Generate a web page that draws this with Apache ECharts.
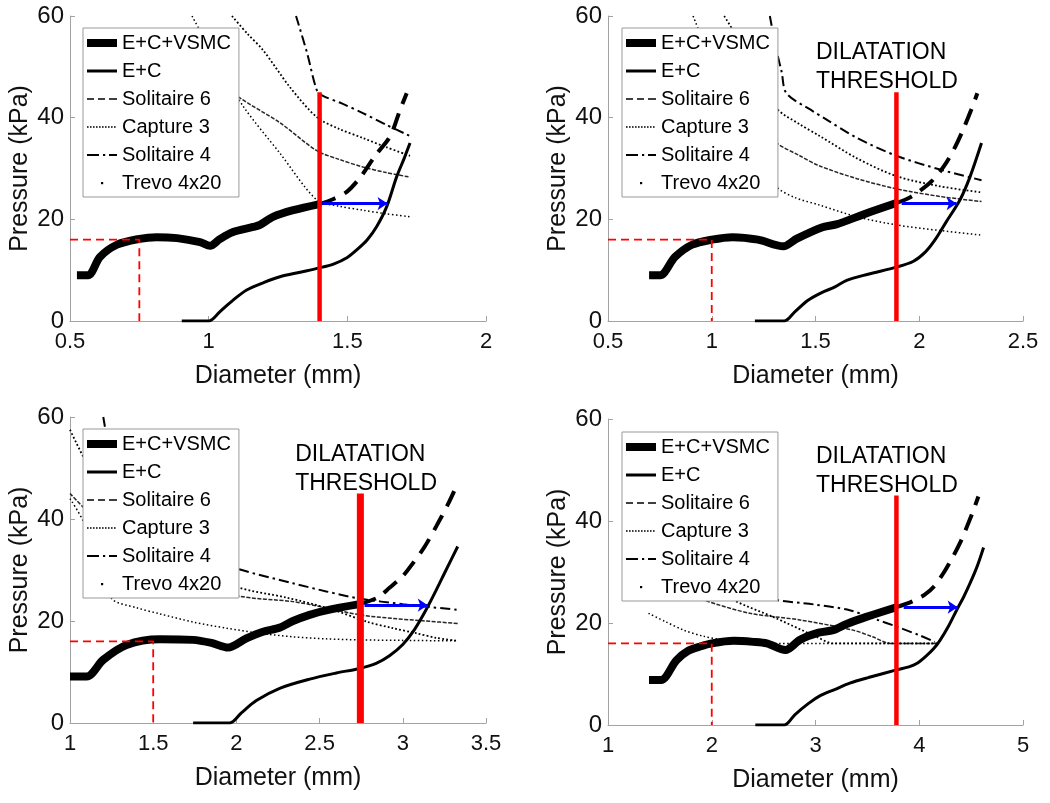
<!DOCTYPE html>
<html>
<head>
<meta charset="utf-8">
<script src="https://cdn.jsdelivr.net/npm/echarts@6/dist/echarts.min.js"></script>
<style>html,body{margin:0;padding:0;background:#fff}#chart{width:1050px;height:803px}</style>
</head>
<body>
<div id="chart"></div>
<script>
// ---------- DATA ----------
const legendNames = ['E+C+VSMC', 'E+C', 'Solitaire 6', 'Capture 3', 'Solitaire 4', 'Trevo 4x20'];
const annotationText = 'DILATATION\nTHRESHOLD';
const xTitle = 'Diameter (mm)';
const yTitle = 'Pressure (kPa)';
const xMins = [0.5, 0.5, 1, 1];
const xMaxs = [2, 2.5, 3.5, 5];
const xSteps = [0.5, 0.5, 0.5, 1];
const yMin = 0, yMax = 60, yStep = 20;

// Plot 1
const p1_vsmc = [[0.525,9],[0.565,9],[0.608,12.6],[0.669,15],[0.745,16.1],[0.813,16.5],[0.886,16.3],[0.969,15.5],[1.005,14.8],[1.04,16.1],[1.088,17.5],[1.16,18.5],[1.185,18.9],[1.232,20.5],[1.305,21.8],[1.4,23]];
const p1_vsmcExt = [[1.4,23],[1.45,24],[1.5,25.5],[1.55,28.5],[1.6,32.5],[1.654,36.3],[1.69,41.5],[1.714,44.8]];
const p1_ec = [[0.903,0],[1.0,0],[1.04,1.8],[1.088,4.1],[1.137,6.1],[1.2,7.6],[1.257,8.7],[1.33,9.6],[1.395,10.4],[1.45,11.2],[1.5,12.5],[1.534,14],[1.572,16],[1.606,18.6],[1.642,22.5],[1.678,28.4],[1.705,32],[1.726,35]];
const p1_sol6 = [[1.0,49],[1.107,44.1],[1.257,39],[1.39,33.5],[1.47,31.8],[1.556,30.3],[1.64,29.2],[1.726,28.3]];
const p1_cap3 = [[1.084,60],[1.14,56.5],[1.196,53.3],[1.293,46],[1.39,40.1],[1.47,37.8],[1.556,36],[1.64,34.2],[1.726,32.5]];
const p1_sol4 = [[1.315,60],[1.355,52.7],[1.39,45.4],[1.412,44.3],[1.48,42.8],[1.556,40.9],[1.64,38.6],[1.726,36.4]];
const p1_trevo = [[0.94,60],[1.03,51],[1.125,42.2],[1.257,33],[1.39,23.8],[1.47,22.6],[1.556,21.8],[1.64,21.1],[1.726,20.5]];
const p1_guide = [[0.5,16],[0.75,16],[0.75,0]];
const p1_threshold = [[1.4,0],[1.4,45]];
const p1_arrow = [[1.41,23.1],[1.645,23.1]];

// Plot 2
const p2_vsmc = [[0.698,9],[0.751,9],[0.823,12.6],[0.905,15],[1.0,16],[1.1,16.5],[1.223,16],[1.345,14.7],[1.41,16.2],[1.53,18.4],[1.6,19],[1.747,21.2],[1.89,23.2]];
const p2_vsmcExt = [[1.89,23.2],[1.95,24.2],[2.0,25.5],[2.06,27.5],[2.12,30.5],[2.17,34],[2.21,37.5],[2.25,41.5],[2.28,44.8]];
const p2_ec = [[1.208,0],[1.35,0],[1.4,1.8],[1.464,4.1],[1.53,5.6],[1.594,6.7],[1.65,8],[1.753,9.2],[1.89,10.6],[1.97,11.7],[2.03,13.6],[2.08,16.2],[2.13,19.5],[2.196,23.8],[2.245,28.4],[2.3,35]];
const p2_sol6 = [[1.15,41],[1.313,35],[1.42,32.6],[1.52,30.5],[1.7,28],[1.89,26],[2.1,24.5],[2.3,23.5]];
const p2_cap3 = [[1.06,60],[1.15,54],[1.23,48],[1.313,41.8],[1.42,38.8],[1.52,36.4],[1.7,32],[1.89,28.5],[2.1,26.5],[2.3,25.3]];
const p2_sol4 = [[1.28,60],[1.31,53.6],[1.337,49],[1.36,44.8],[1.49,41.2],[1.546,39.8],[1.7,36],[1.89,32.5],[2.1,29.8],[2.3,27.7]];
const p2_trevo = [[0.91,60],[1.0,51],[1.1,42],[1.2,34],[1.313,26.4],[1.4,24.3],[1.52,22.8],[1.7,20.5],[1.89,18.9],[2.1,17.8],[2.3,16.9]];
const p2_guide = [[0.5,16],[1.0,16],[1.0,0]];
const p2_threshold = [[1.89,0],[1.89,45]];
const p2_arrow = [[1.915,23.1],[2.18,23.1]];
const p2_label = [1.5, 49.9];

// Plot 3
const p3_vsmc = [[1.0,9.1],[1.1,9.1],[1.2,12.4],[1.34,15.3],[1.54,16.4],[1.74,16.3],[1.85,15.7],[1.95,14.8],[2.06,16.6],[2.16,17.9],[2.26,18.7],[2.34,20],[2.44,21.2],[2.54,22.1],[2.74,23.3]];
const p3_vsmcExt = [[2.74,23.3],[2.85,24.6],[2.92,26.5],[3.0,28.8],[3.06,31.3],[3.13,34.5],[3.2,38.5],[3.27,42.8],[3.33,47]];
const p3_ec = [[1.74,0],[1.96,0],[2.03,2],[2.12,4.4],[2.26,6.8],[2.44,8.6],[2.6,9.8],[2.74,10.7],[2.84,11.7],[2.92,13.2],[3.0,15.4],[3.07,18.3],[3.14,22.2],[3.2,26],[3.26,30],[3.33,34.6]];
const p3_sol6 = [[1.0,45],[1.3,35.5],[1.6,29.5],[2.0,25],[2.34,23.8],[2.54,22.6],[2.74,21.2],[2.94,20.5],[3.14,20],[3.33,19.5]];
const p3_cap3 = [[1.0,57.5],[1.09,51.6],[1.2,46],[1.4,38.5],[1.7,31.5],[2.0,26.7],[2.3,24.6],[2.58,22.2],[2.78,19.9],[2.94,18.6],[3.08,17.6],[3.2,16.7],[3.33,16.1]];
const p3_sol4 = [[1.2,60],[1.23,54],[1.27,45],[1.5,38],[1.75,33.5],[2.0,30.3],[2.34,27.4],[2.54,25.8],[2.74,24.4],[3.0,23.3],[3.33,22.2]];
const p3_trevo = [[1.0,44],[1.08,39.5],[1.16,31.5],[1.25,24.4],[1.4,22.6],[1.54,21.4],[1.74,19.8],[1.94,18.6],[2.14,17.6],[2.34,16.9],[2.54,16.5],[2.74,16.3],[3.0,16.2],[3.33,16.1]];
const p3_guide = [[1.0,16],[1.5,16],[1.5,0]];
const p3_threshold = [[2.745,0],[2.745,45]];
const p3_arrow = [[2.77,23.1],[3.15,23.1]];
const p3_label = [2.35, 49.8];

// Plot 4
const p4_vsmc = [[1.395,8.8],[1.51,8.8],[1.66,12.7],[1.77,14.5],[1.89,15.4],[2.0,16],[2.21,16.5],[2.4,16.3],[2.53,16],[2.71,14.7],[2.85,16.7],[3.03,18.1],[3.17,18.6],[3.3,19.8],[3.49,21.2],[3.78,23.1]];
const p4_vsmcExt = [[3.78,23.1],[3.94,24.3],[4.05,25.5],[4.14,27.1],[4.24,30],[4.33,33.2],[4.4,36],[4.46,38.9],[4.52,42],[4.57,44.8]];
const p4_ec = [[2.42,0],[2.7,0],[2.8,2],[2.93,4.2],[3.05,5.8],[3.19,7.0],[3.33,8.2],[3.51,9.3],[3.78,10.8],[3.9,11.4],[3.98,12.1],[4.06,13.4],[4.14,15.0],[4.2,16.6],[4.28,19.3],[4.36,22.5],[4.43,25.2],[4.49,27.8],[4.56,31.2],[4.62,34.8]];
const p4_sol6 = [[1.75,26],[1.92,24.5],[2.37,21.9],[2.85,20.6],[3.36,18.6],[3.55,17.3],[3.72,16],[4.18,16]];
const p4_cap3 = [[2.05,27],[2.21,24.5],[2.59,21.2],[3.01,17.3],[3.17,16],[4.18,16]];
const p4_sol4 = [[2.5,25.5],[2.63,24.5],[3.0,23.6],[3.33,22.5],[3.6,20.6],[3.78,19.3],[4.0,17.6],[4.15,16.3]];
const p4_trevo = [[1.39,21.9],[1.55,20.3],[1.73,18.6],[1.92,17.4],[2.11,16.7],[2.3,16.3],[2.53,16],[4.18,16]];
const p4_guide = [[1.0,16],[2.0,16],[2.0,0]];
const p4_threshold = [[3.78,0],[3.78,45]];
const p4_arrow = [[3.85,23.1],[4.37,23.1]];
const p4_label = [3.0, 49.8];

// ---------- BUILD ----------
const plots = [
  {vsmc:p1_vsmc, vsmcExt:p1_vsmcExt, ec:p1_ec, sol6:p1_sol6, cap3:p1_cap3, sol4:p1_sol4, trevo:p1_trevo, guide:p1_guide, threshold:p1_threshold, arrow:p1_arrow, label:null},
  {vsmc:p2_vsmc, vsmcExt:p2_vsmcExt, ec:p2_ec, sol6:p2_sol6, cap3:p2_cap3, sol4:p2_sol4, trevo:p2_trevo, guide:p2_guide, threshold:p2_threshold, arrow:p2_arrow, label:p2_label},
  {vsmc:p3_vsmc, vsmcExt:p3_vsmcExt, ec:p3_ec, sol6:p3_sol6, cap3:p3_cap3, sol4:p3_sol4, trevo:p3_trevo, guide:p3_guide, threshold:p3_threshold, arrow:p3_arrow, label:p3_label},
  {vsmc:p4_vsmc, vsmcExt:p4_vsmcExt, ec:p4_ec, sol6:p4_sol6, cap3:p4_cap3, sol4:p4_sol4, trevo:p4_trevo, guide:p4_guide, threshold:p4_threshold, arrow:p4_arrow, label:p4_label}
];

const FONT = 'Liberation Sans';
const AXIS_GRAY = '#a3a3a3';
const TXT = '#111';
const gridBoxes = [
  {left:70, top:16, width:416, height:305},
  {left:608, top:16, width:415, height:305},
  {left:70, top:417, width:416, height:306},
  {left:608, top:419, width:415, height:306}
];
const legendPos = [{left:83, top:28}, {left:622, top:28}, {left:83, top:429}, {left:622, top:432}];
const thresholdWidths = [4.5, 4.5, 7, 4.5];

// legend icons (30 x 14 boxes)
function dots(y, h, step, w) { let s = ''; for (let x = 0; x + w <= 30.01; x += step) s += 'M' + x + ',' + y + 'h' + w + 'v' + h + 'h-' + w + 'z'; return s; }
const BOX = 'path://M0,0M30,14';
const legendIcons = {
  'E+C+VSMC': BOX + 'M0,3h30v8h-30z',
  'E+C': BOX + 'M0,5.5h30v3h-30z',
  'Solitaire 6': BOX + 'M0,6.3h7v1.5h-7zM11,6.3h7v1.5h-7zM22,6.3h8v1.5h-8z',
  'Capture 3': BOX + dots(6.2, 1.6, 3, 1.6),
  'Solitaire 4': BOX + 'M0,6h12v2h-12zM16,6h2.2v2h-2.2zM22,6h8v2h-8z',
  'Trevo 4x20': BOX + 'M14,6h2.2v2.2h-2.2z'
};

const grid = [], xAxis = [], yAxis = [], legend = [], series = [];

plots.forEach((d, i) => {
  grid.push(Object.assign({outerBoundsMode: 'none', containLabel: false}, gridBoxes[i]));
  xAxis.push({
    type: 'value', gridIndex: i, min: xMins[i], max: xMaxs[i], interval: xSteps[i],
    name: xTitle, nameLocation: 'middle', nameGap: 43, nameMoveOverlap: false,
    nameTextStyle: {fontFamily: FONT, fontSize: 25, color: TXT},
    axisLine: {show: true, onZero: false, lineStyle: {color: AXIS_GRAY, width: 1}},
    axisTick: {show: true, inside: true, length: 5, lineStyle: {color: AXIS_GRAY}},
    axisLabel: {fontFamily: FONT, fontSize: 22, color: TXT, margin: 10, showMinLabel: true, showMaxLabel: true},
    splitLine: {show: false}
  });
  yAxis.push({
    type: 'value', gridIndex: i, min: yMin, max: yMax, interval: yStep,
    name: yTitle, nameLocation: 'middle', nameGap: 37, nameMoveOverlap: false,
    nameTextStyle: {fontFamily: FONT, fontSize: 25, color: TXT},
    axisLine: {show: true, onZero: false, lineStyle: {color: AXIS_GRAY, width: 1}},
    axisTick: {show: true, inside: true, length: 5, lineStyle: {color: AXIS_GRAY}},
    axisLabel: {fontFamily: FONT, fontSize: 24, color: TXT, margin: 6, showMinLabel: true, showMaxLabel: true},
    splitLine: {show: false}
  });
  legend.push({
    orient: 'vertical', align: 'left', left: legendPos[i].left, top: legendPos[i].top,
    itemWidth: 30, itemHeight: 14, itemGap: 8, padding: [5, 8, 4, 4],
    backgroundColor: '#fff', borderColor: '#999', borderWidth: 1, borderRadius: 0,
    selectedMode: false, z: 10,
    itemStyle: {borderWidth: 0},
    textStyle: {fontFamily: FONT, fontSize: 20, color: '#000', lineHeight: 20},
    data: legendNames.map(n => ({name: n, icon: legendIcons[n]}))
  });

  const ax = {xAxisIndex: i, yAxisIndex: i};
  const base = Object.assign({type: 'line', symbol: 'none', showSymbol: false, silent: true, animation: false, color: '#000', smooth: 0.3}, ax);
  series.push(
    Object.assign({}, base, {name: 'Solitaire 6', data: d.sol6, z: 2, lineStyle: {color: '#262626', width: 1.5, type: [4, 1.5]}}),
    Object.assign({}, base, {name: 'Capture 3', data: d.cap3, z: 2, lineStyle: {color: '#000', width: 1.8, type: [1.8, 2.2]}}),
    Object.assign({}, base, {name: 'Solitaire 4', data: d.sol4, z: 2, lineStyle: {color: '#000', width: 2, type: [10, 4, 2.5, 4]}}),
    Object.assign({}, base, {name: 'Trevo 4x20', data: d.trevo, z: 2, lineStyle: {color: '#000', width: 1.5, type: [1.5, 2.5]}}),
    Object.assign({}, base, {name: 'E+C+VSMC', data: d.vsmc, z: 3, lineStyle: {color: '#000', width: 8}}),
    Object.assign({}, base, {name: 'E+C+VSMC beyond threshold', data: d.vsmcExt, z: 3, lineStyle: {color: '#000', width: 4, type: [17, 10]}}),
    Object.assign({}, base, {name: 'E+C', data: d.ec, z: 3, lineStyle: {color: '#000', width: 3}}),
    Object.assign({}, base, {name: 'Reference diameter', data: d.guide, smooth: false, z: 4, color: '#ff0000', lineStyle: {color: '#ff0000', width: 1.8, type: [8, 5]}}),
    Object.assign({}, base, {name: 'Dilatation threshold', data: d.threshold, smooth: false, z: 5, color: '#ff0000', lineStyle: {color: '#ff0000', width: thresholdWidths[i]}}),
    Object.assign({type: 'lines', coordinateSystem: 'cartesian2d', silent: true, animation: false, z: 6,
      data: [{coords: d.arrow}], symbol: ['none', 'arrow'], symbolSize: 10,
      lineStyle: {color: '#0000ff', width: 3, opacity: 1, curveness: 0}}, ax)
  );
  if (d.label) {
    series.push(Object.assign({type: 'scatter', silent: true, animation: false, z: 7,
      data: [d.label], symbolSize: 1, itemStyle: {color: 'rgba(0,0,0,0)'},
      label: {show: true, position: 'right', distance: 0, formatter: annotationText,
        fontFamily: FONT, fontSize: 23, lineHeight: 29, color: '#000', opacity: 1}}, ax));
  }
});

const chart = echarts.init(document.getElementById('chart'), null, {renderer: 'canvas'});
chart.setOption({
  animation: false,
  backgroundColor: '#fff',
  textStyle: {fontFamily: FONT},
  grid: grid, xAxis: xAxis, yAxis: yAxis, legend: legend, series: series
});
</script>
</body>
</html>
